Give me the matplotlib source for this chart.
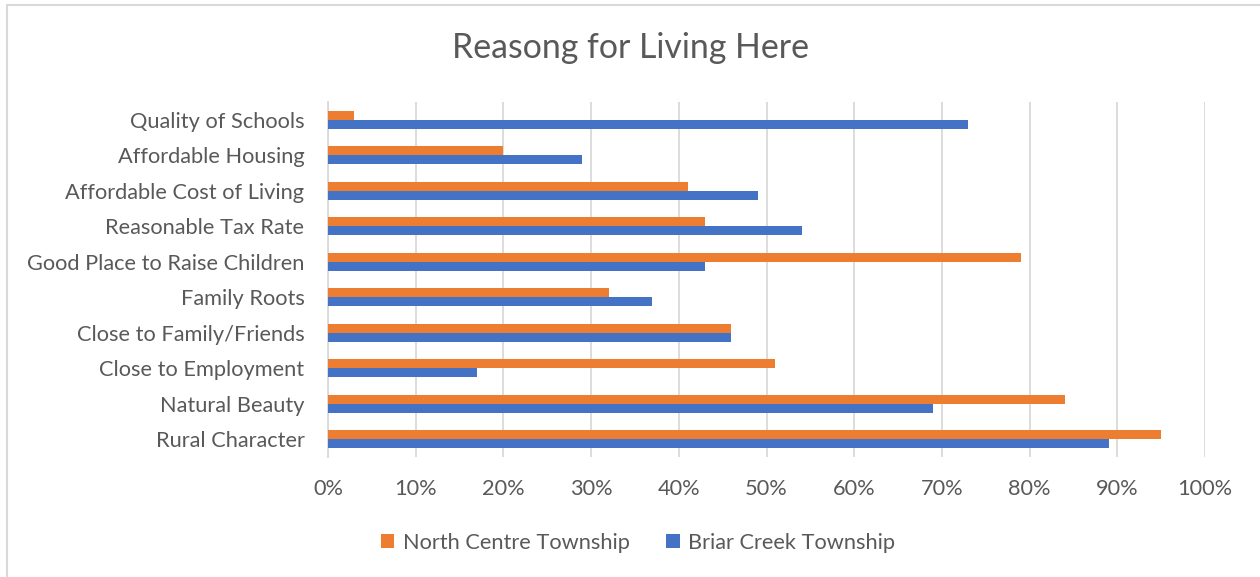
import numpy as np
import matplotlib.pyplot as plt
from matplotlib.patches import Rectangle
from matplotlib.ticker import FuncFormatter

plt.rcParams['font.family'] = ['Lato', 'DejaVu Sans']

# survey answers, bottom to top
reasons = ['Rural Character', 'Natural Beauty', 'Close to Employment',
           'Close to Family/Friends', 'Family Roots',
           'Good Place to Raise Children', 'Reasonable Tax Rate',
           'Affordable Cost of Living', 'Affordable Housing',
           'Quality of Schools']
north_centre = [95, 84, 51, 46, 32, 79, 43, 41, 20, 3]
briar_creek = [89, 69, 17, 46, 37, 43, 54, 49, 29, 73]
x_ticks = np.arange(0, 101, 10)

c_orange = '#ED7D31'
c_blue = '#4472C4'
c_text = '#595959'
c_grid = '#D9D9D9'
fs = 15.7

fig = plt.figure(figsize=(12.6, 5.77), dpi=100)
ax = fig.add_axes([328/1260, 120/577, 877/1260, 355/577])

# chart border
fig.patches.append(Rectangle((7/1260, -0.1), 1.2, 1 - 5/577 + 0.1,
                             transform=fig.transFigure, fill=False,
                             edgecolor='#D9D9D9', linewidth=1.5))

y = np.arange(len(reasons))
h = 0.255
ax.barh(y + h/2, north_centre, height=h, color=c_orange,
        label='North Centre Township', zorder=3)
ax.barh(y - h/2, briar_creek, height=h, color=c_blue,
        label='Briar Creek Township', zorder=3)

ax.set_xlim(0, 100)
ax.set_ylim(-0.5, len(reasons) - 0.5)
ax.set_xticks(x_ticks)
ax.xaxis.set_major_formatter(FuncFormatter(lambda v, p: '%d%%' % v))
ax.set_yticks(y)
ax.set_yticklabels(reasons)
ax.grid(axis='x', color=c_grid, linewidth=1.3, zorder=0)
for s in ['top', 'right', 'bottom']:
    ax.spines[s].set_visible(False)
ax.spines['left'].set_color(c_grid)
ax.spines['left'].set_linewidth(1.3)
ax.tick_params(axis='both', length=0, labelsize=fs, labelcolor=c_text)
ax.tick_params(axis='x', pad=16)
ax.tick_params(axis='y', pad=17)

fig.text(0.5, 1 - 48/577, 'Reasong for Living Here', ha='center',
         va='center', fontsize=24.4, color=c_text)

handles, labels = ax.get_legend_handles_labels()
fig.legend(handles, labels, loc='center', bbox_to_anchor=(638/1260, 1 - 543/577),
           ncol=2, frameon=False, fontsize=fs, labelcolor=c_text,
           handlelength=0.6, handleheight=0.6, handletextpad=0.4,
           columnspacing=1.7)

plt.savefig('out.png', dpi=100)
